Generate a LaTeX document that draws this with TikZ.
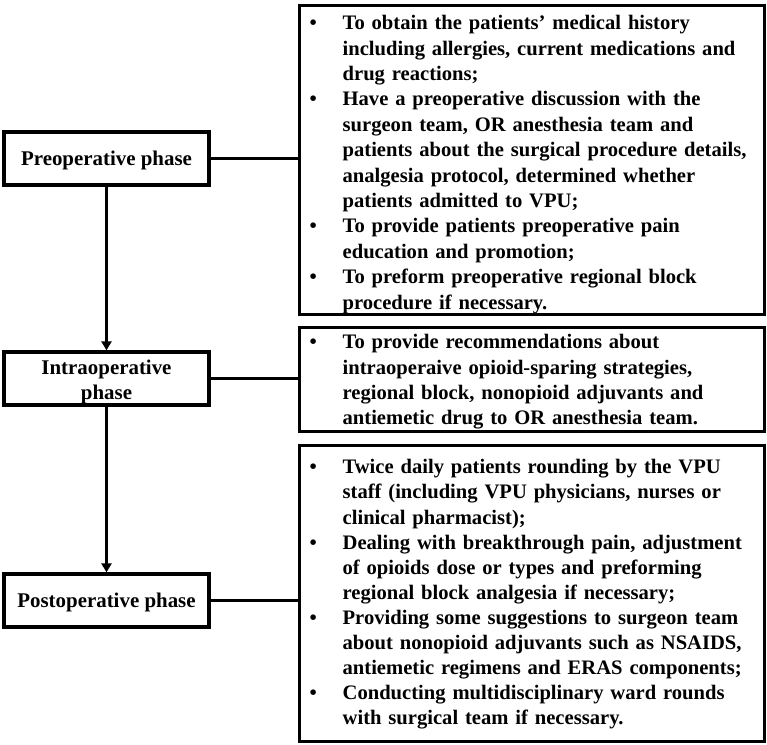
\documentclass[tikz,border=0pt]{standalone}
\usepackage{fontspec}
\setmainfont{Liberation Serif}
\usetikzlibrary{arrows.meta}
\newcommand\bitem[1]{\makebox[33pt][l]{\textbullet}#1}
\newcommand\cont[1]{\hspace*{33pt}#1}
\begin{document}
\begin{tikzpicture}[x=1pt,y=-1pt,
 phase/.style={draw, line width=3.3pt, minimum width=205pt, minimum height=53pt, inner sep=0pt, align=center, font=\bfseries\fontsize{20.9}{25}\selectfont},
 info/.style={draw, line width=3.3pt, anchor=north west, inner xsep=10pt, inner ysep=0pt, text width=445pt, align=left, font=\bfseries\fontsize{20.6}{25.4}\selectfont},
 conn/.style={line width=2.8pt},
 arr/.style={line width=2.8pt, -{Triangle[length=9pt,width=10pt]}}]
\useasboundingbox (0,0) rectangle (767,744);
\node[phase] (pre) at (106.5,158.5) {\rule{0pt}{18pt}Preoperative phase};
\node[phase] (intra) at (106.5,378.5) {\rule{0pt}{21pt}Intraoperative\\phase};
\node[phase] (post) at (106.5,600.5) {\rule{0pt}{18pt}Postoperative phase};
\node[info, minimum height=309pt] (i1) at (298,4) {%
\bitem{\rule{0pt}{23pt}To obtain the patients’ medical history}\\
\cont{including allergies, current medications and}\\
\cont{drug reactions;}\\
\bitem{Have a preoperative discussion with the}\\
\cont{surgeon team, OR anesthesia team and}\\
\cont{patients about the surgical procedure details,}\\
\cont{analgesia protocol, determined whether}\\
\cont{patients admitted to VPU;}\\
\bitem{To provide patients preoperative pain}\\
\cont{education and promotion;}\\
\bitem{To preform preoperative regional block}\\
\cont{procedure if necessary.}};
\node[info, minimum height=104pt] (i2) at (298,326) {%
\bitem{\rule{0pt}{19pt}To provide recommendations about}\\
\cont{intraoperaive opioid-sparing strategies,}\\
\cont{regional block, nonopioid adjuvants and}\\
\cont{antiemetic drug to OR anesthesia team.}};
\node[info, minimum height=296pt, font=\bfseries\fontsize{20.6}{25.1}\selectfont] (i3) at (298,444) {%
\bitem{\rule{0pt}{16pt}Twice daily patients rounding by the VPU}\\
\cont{staff (including VPU physicians, nurses or}\\
\cont{clinical pharmacist);}\\
\bitem{Dealing with breakthrough pain, adjustment}\\
\cont{of opioids dose or types and preforming}\\
\cont{regional block analgesia if necessary;}\\
\bitem{Providing some suggestions to surgeon team}\\
\cont{about nonopioid adjuvants such as NSAIDS,}\\
\cont{antiemetic regimens and ERAS components;}\\
\bitem{Conducting multidisciplinary ward rounds}\\
\cont{with surgical team if necessary.}};
\draw[conn] (pre.east) -- (pre.east -| i1.west);
\draw[conn] (intra.east) -- (intra.east -| i2.west);
\draw[conn] (post.east) -- (post.east -| i3.west);
\draw[arr] (pre.south) -- (intra.north);
\draw[arr] (intra.south) -- (post.north);
\end{tikzpicture}
\end{document}
